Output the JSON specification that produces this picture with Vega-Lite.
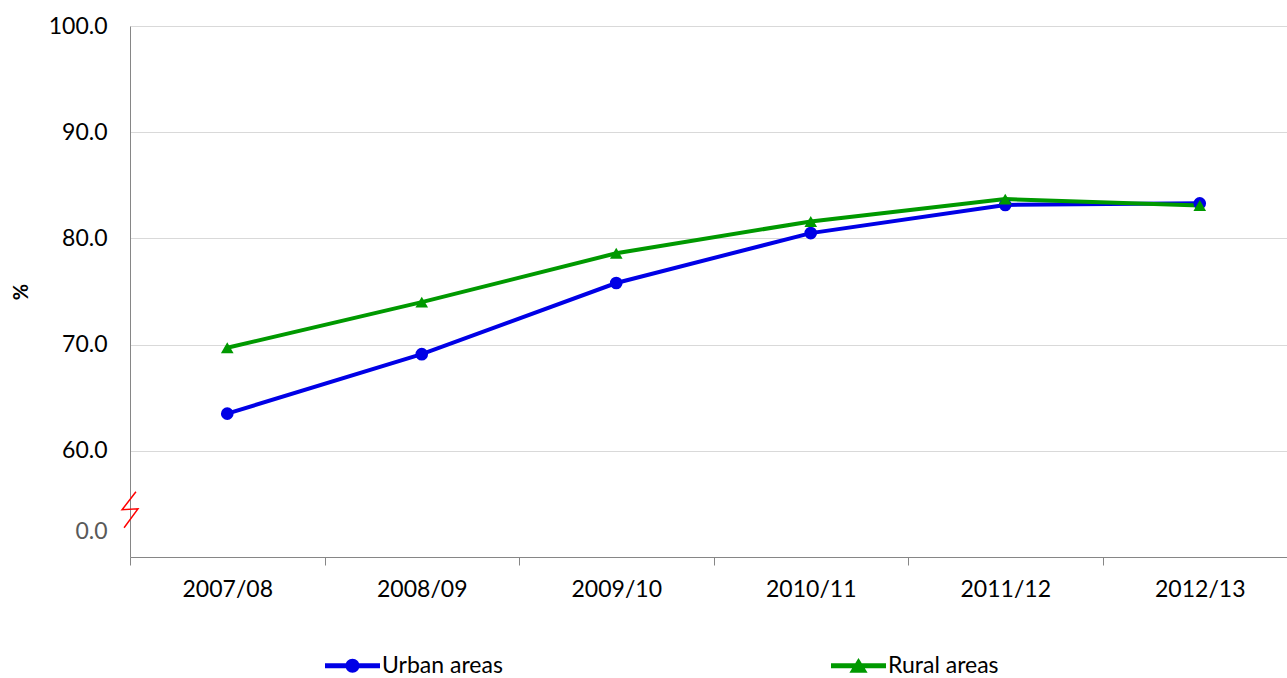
{
  "$schema": "https://vega.github.io/schema/vega-lite/v6.json",
  "width": 1157,
  "height": 531,
  "autosize": {"type": "none"},
  "padding": {"left": 130, "top": 26, "right": 0, "bottom": 121},
  "background": "white",
  "config": {
    "font": "Lato",
    "view": {"stroke": null}
  },
  "data": {
    "values": [
      {"period": "2007/08", "series": "Urban areas", "value": 63.5},
      {"period": "2008/09", "series": "Urban areas", "value": 69.1},
      {"period": "2009/10", "series": "Urban areas", "value": 75.8},
      {"period": "2010/11", "series": "Urban areas", "value": 80.5},
      {"period": "2011/12", "series": "Urban areas", "value": 83.15},
      {"period": "2012/13", "series": "Urban areas", "value": 83.3},
      {"period": "2007/08", "series": "Rural areas", "value": 69.7},
      {"period": "2008/09", "series": "Rural areas", "value": 74.0},
      {"period": "2009/10", "series": "Rural areas", "value": 78.6},
      {"period": "2010/11", "series": "Rural areas", "value": 81.6},
      {"period": "2011/12", "series": "Rural areas", "value": 83.7},
      {"period": "2012/13", "series": "Rural areas", "value": 83.1}
    ]
  },
  "encoding": {
    "x": {
      "field": "period",
      "type": "ordinal",
      "sort": null,
      "scale": {"range": [0, 1167], "paddingInner": 0, "paddingOuter": 0},
      "axis": {
        "title": null,
        "labelFontSize": 23,
        "labelColor": "black",
        "labelAngle": 0,
        "tickBand": "extent",
        "tickSize": 8,
        "tickColor": "#868686",
        "domainColor": "#868686",
        "labelPadding": 13,
        "grid": false
      }
    },
    "y": {
      "field": "value",
      "type": "quantitative",
      "scale": {"domain": [50, 100], "nice": false, "zero": false},
      "axis": {
        "title": "%",
        "titleFontWeight": "bold",
        "titleFontSize": 20,
        "titleColor": "black",
        "titlePadding": 17,
        "values": [52.4, 60, 70, 80, 90, 100],
        "format": ".1f",
        "labelExpr": "datum.value < 55 ? '0.0' : datum.label",
        "labelColor": {"condition": {"test": "datum.value < 55", "value": "#595959"}, "value": "black"},
        "labelFontSize": 23,
        "ticks": false,
        "labelPadding": 23,
        "domainColor": "#868686",
        "grid": true,
        "gridColor": "#d9d9d9",
        "gridOpacity": {"condition": {"test": "datum.value < 55", "value": 0}, "value": 1}
      }
    }
  },
  "layer": [
    {
      "mark": {"type": "line", "strokeWidth": 4},
      "encoding": {
        "color": {
          "field": "series",
          "type": "nominal",
          "scale": {"domain": ["Urban areas", "Rural areas"], "range": ["#0000E6", "#009900"]},
          "legend": null
        }
      }
    },
    {
      "mark": {"type": "point", "filled": true, "size": 160, "opacity": 1},
      "encoding": {
        "color": {
          "field": "series",
          "type": "nominal",
          "scale": {"domain": ["Urban areas", "Rural areas"], "range": ["#0000E6", "#009900"]},
          "legend": null
        },
        "shape": {
          "field": "series",
          "type": "nominal",
          "scale": {"domain": ["Urban areas", "Rural areas"], "range": ["circle", "triangle-up"]},
          "legend": null
        }
      }
    },
    {
      "transform": [{"filter": "datum.value < 0"}],
      "mark": {"type": "point", "filled": true, "opacity": 1},
      "encoding": {
        "color": {
          "field": "series",
          "type": "nominal",
          "scale": {"domain": ["Urban areas", "Rural areas"], "range": ["#0000E6", "#009900"]},
          "legend": {
            "title": null, "orient": "none", "legendX": 211, "legendY": 628,
            "direction": "horizontal", "columns": 2, "labelFontSize": 23, "labelColor": "black",
            "symbolSize": 196, "labelOffset": 18, "columnPadding": 327, "padding": 0,
            "symbolStrokeWidth": 0, "labelLimit": 400
          }
        },
        "shape": {
          "field": "series",
          "type": "nominal",
          "scale": {
            "domain": ["Urban areas", "Rural areas"],
            "range": [
              "M-3.93,-0.36H3.93V0.36H-3.93Z M1,0 A1,1 0 1 1 -1,0 A1,1 0 1 1 1,0Z",
              "M-3.93,-0.36H3.93V0.36H-3.93Z M0,-1.09 L1.3,1 L-1.3,1Z"
            ]
          },
          "legend": {
            "title": null, "orient": "none", "legendX": 211, "legendY": 628,
            "direction": "horizontal", "columns": 2, "labelFontSize": 23, "labelColor": "black",
            "symbolSize": 196, "labelOffset": 18, "columnPadding": 327, "padding": 0,
            "symbolStrokeWidth": 0, "labelLimit": 400
          }
        }
      }
    },
    {
      "data": {"values": [{"period": "2007/08", "value": 54.45}]},
      "mark": {
        "type": "point",
        "shape": "M0.33,-1 L-0.44,0 L0.44,-0.05 L-0.33,1",
        "size": 1296,
        "filled": false,
        "stroke": "red",
        "strokeWidth": 1.5,
        "opacity": 1
      },
      "encoding": {
        "x": {"field": "period", "type": "ordinal", "sort": null, "bandPosition": 0}
      }
    }
  ],
  "resolve": {"scale": {"color": "independent", "shape": "independent"}}
}
